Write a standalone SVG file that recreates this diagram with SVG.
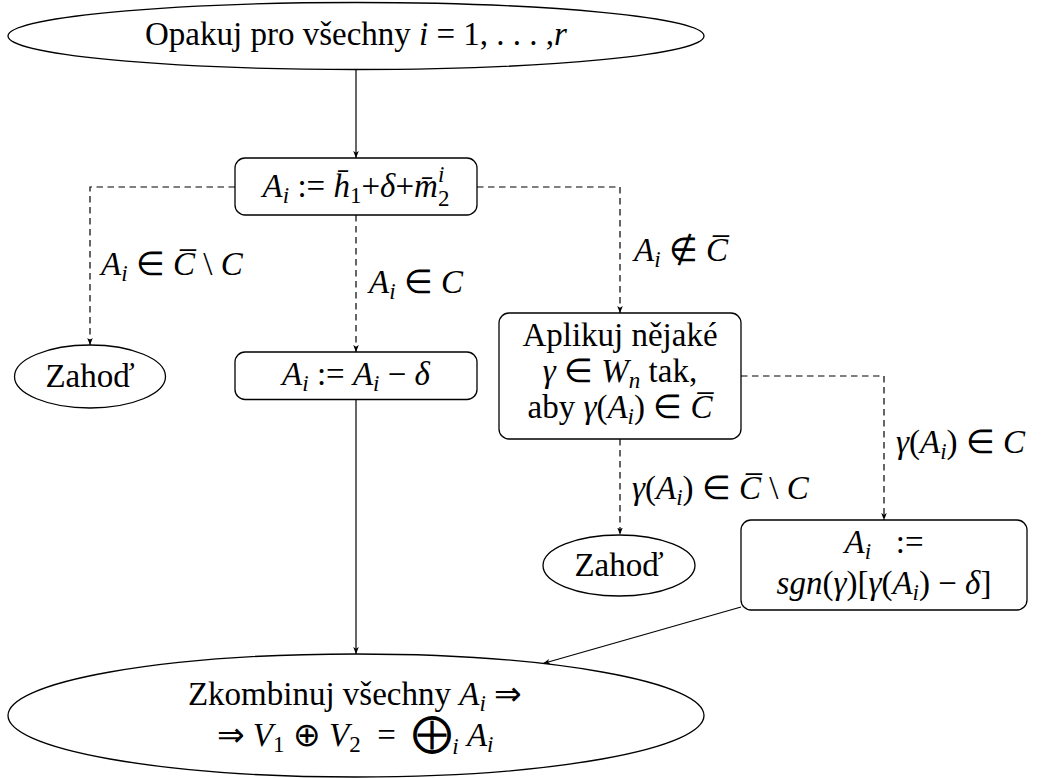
<svg xmlns="http://www.w3.org/2000/svg" width="1043" height="778" viewBox="0 0 1043 778" font-family="'Liberation Serif', serif">
<defs>
<marker id="ah" viewBox="0 0 10 10" refX="10" refY="5" markerWidth="7" markerHeight="7" markerUnits="userSpaceOnUse" orient="auto">
<path d="M0,1 L10,5 L0,9 L2.5,5 z" fill="#000"/>
</marker>
<style>
text{font-family:'Liberation Serif',serif;font-size:33px;fill:#000}
.m{font-style:italic}
.s{font-size:23px}
.ln{fill:none;stroke:#000;stroke-width:1.2}
.d{stroke-dasharray:6.5 4.5}
.nd{fill:#fff;stroke:#000;stroke-width:1.3}
</style>
</defs>
<rect width="1043" height="778" fill="#fff"/>

<g id="connectors">
<path class="ln" d="M356,69.5 V158" marker-end="url(#ah)"/>
<path class="ln d" d="M235,187 H90 V345" marker-end="url(#ah)"/>
<path class="ln d" d="M356,215 V352" marker-end="url(#ah)"/>
<path class="ln d" d="M477,187 H620 V313" marker-end="url(#ah)"/>
<path class="ln" d="M356,399.5 V654" marker-end="url(#ah)"/>
<path class="ln d" d="M741,376 H884 V520" marker-end="url(#ah)"/>
<path class="ln d" d="M620,439 V534.5" marker-end="url(#ah)"/>
<path class="ln" d="M741,607 L543,663.5" marker-end="url(#ah)"/>
</g>

<g id="labels">
<text x="101" y="275"><tspan class="m">A</tspan><tspan class="m s" dy="6">i</tspan><tspan dy="-6"> ∈ </tspan><tspan class="m">C̅</tspan> \ <tspan class="m">C</tspan></text>
<text x="369" y="293"><tspan class="m">A</tspan><tspan class="m s" dy="6">i</tspan><tspan dy="-6"> ∈ </tspan><tspan class="m">C</tspan></text>
<text x="634" y="261"><tspan class="m">A</tspan><tspan class="m s" dy="6">i</tspan><tspan dy="-6"> ∉ </tspan><tspan class="m">C̅</tspan></text>
<text x="896" y="453"><tspan class="m">γ</tspan>(<tspan class="m">A</tspan><tspan class="m s" dy="6">i</tspan><tspan dy="-6">) ∈ </tspan><tspan class="m">C</tspan></text>
<text x="632" y="499"><tspan class="m">γ</tspan>(<tspan class="m">A</tspan><tspan class="m s" dy="6">i</tspan><tspan dy="-6">) ∈ </tspan><tspan class="m">C̅</tspan> \ <tspan class="m">C</tspan></text>
</g>

<g id="start">
<ellipse class="nd" cx="356" cy="36" rx="348" ry="33.5"/>
<text x="356" y="45" text-anchor="middle">Opakuj pro všechny <tspan class="m">i</tspan> = 1, . . . ,<tspan class="m">r</tspan></text>
</g>

<g id="assign">
<rect class="nd" x="235" y="158" width="242" height="57" rx="10"/>
<text x="356" y="197" text-anchor="middle"><tspan class="m">A</tspan><tspan class="m s" dy="6">i</tspan><tspan dy="-6"> := </tspan><tspan class="m">h̄</tspan><tspan class="s" dy="6">1</tspan><tspan dy="-6">+</tspan><tspan class="m">δ</tspan>+<tspan class="m">m̄</tspan><tspan class="m s" dy="-15">i</tspan><tspan class="s" dx="-6.4" dy="24">2</tspan></text>
</g>

<g id="discard1">
<ellipse class="nd" cx="90" cy="376.5" rx="75.5" ry="31.5"/>
<text x="90" y="387" text-anchor="middle">Zahoď</text>
</g>

<g id="subtract">
<rect class="nd" x="235" y="352" width="242" height="47.5" rx="10"/>
<text x="356" y="385" text-anchor="middle"><tspan class="m">A</tspan><tspan class="m s" dy="6">i</tspan><tspan dy="-6"> := </tspan><tspan class="m">A</tspan><tspan class="m s" dy="6">i</tspan><tspan dy="-6"> − </tspan><tspan class="m">δ</tspan></text>
</g>

<g id="apply">
<rect class="nd" x="499" y="313" width="242" height="126" rx="10"/>
<text x="620" y="346" text-anchor="middle">Aplikuj nějaké</text>
<text x="620" y="382" text-anchor="middle"><tspan class="m">γ</tspan> ∈ <tspan class="m">W</tspan><tspan class="m s" dy="6">n</tspan><tspan dy="-6"> tak,</tspan></text>
<text x="620" y="418" text-anchor="middle">aby <tspan class="m">γ</tspan>(<tspan class="m">A</tspan><tspan class="m s" dy="6">i</tspan><tspan dy="-6">) ∈ </tspan><tspan class="m">C̅</tspan></text>
</g>

<g id="discard2">
<ellipse class="nd" cx="619" cy="565.5" rx="76" ry="30.5"/>
<text x="619" y="576" text-anchor="middle">Zahoď</text>
</g>

<g id="sign">
<rect class="nd" x="741" y="520" width="286" height="90" rx="10"/>
<text x="884" y="553" text-anchor="middle"><tspan class="m">A</tspan><tspan class="m s" dy="6">i</tspan><tspan dy="-6">&#160;&#160;&#160;:=</tspan></text>
<text x="884" y="594" text-anchor="middle"><tspan class="m">sgn</tspan>(<tspan class="m">γ</tspan>)[<tspan class="m">γ</tspan>(<tspan class="m">A</tspan><tspan class="m s" dy="6">i</tspan><tspan dy="-6">) − </tspan><tspan class="m">δ</tspan>]</text>
</g>

<g id="combine">
<ellipse class="nd" cx="356" cy="715.5" rx="348" ry="61.5"/>
<text x="355" y="705" text-anchor="middle">Zkombinuj všechny <tspan class="m">A</tspan><tspan class="m s" dy="6">i</tspan><tspan dy="-6"> ⇒</tspan></text>
<text x="355" y="746" text-anchor="middle">⇒ <tspan class="m">V</tspan><tspan class="s" dy="6">1</tspan><tspan dy="-6"> ⊕ </tspan><tspan class="m">V</tspan><tspan class="s" dy="6">2</tspan><tspan dy="-6">&#160;&#160;=&#160;&#160;</tspan><tspan font-size="40">⨁</tspan><tspan class="m s" dy="8">i</tspan><tspan dy="-8"> </tspan><tspan class="m">A</tspan><tspan class="m s" dy="6">i</tspan></text>
</g>
</svg>
